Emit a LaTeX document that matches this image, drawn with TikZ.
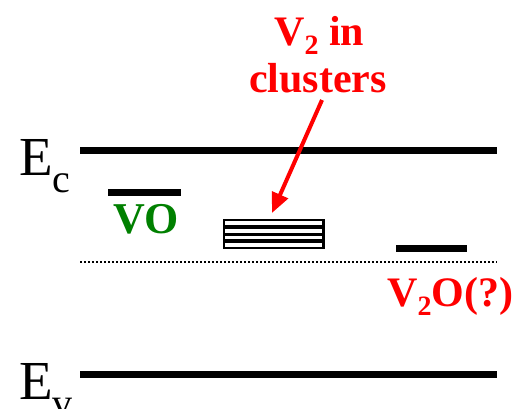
\documentclass[tikz,border=0pt]{standalone}
\usepackage{fontspec}
\setmainfont{Liberation Serif}
\usetikzlibrary{arrows.meta}
\definecolor{levelgreen}{RGB}{0,128,0}
\definecolor{levelred}{RGB}{255,0,0}
\begin{document}
\begin{tikzpicture}[x=1pt,y=-1pt,
  band/.style={line width=7pt},
  deep/.style={line width=7pt},
  lbl/.style={inner sep=0pt, anchor=base west},
  bigtxt/.style={font=\fontsize{42}{46}\selectfont\bfseries},
  edgetxt/.style={font=\fontsize{55}{60}\selectfont}]
\useasboundingbox (0,0) rectangle (516,408);
\clip (0,0) rectangle (516,408);

% band edges
\coordinate (ecl) at (80,150.5);
\coordinate (ecr) at (497,150.5);
\coordinate (evl) at (80,374);
\coordinate (evr) at (497,374);
\draw[band] (ecl) -- (ecr);
\draw[band] (evl) -- (evr);
\node[lbl, edgetxt] (ec) at (19,175) {E\raisebox{-17pt}{\fontsize{40}{44}\selectfont c}};
\node[lbl, edgetxt] (ev) at (19,399) {E\raisebox{-17pt}{\fontsize{40}{44}\selectfont v}};

% midgap reference
\coordinate (mgl) at (80,262);
\coordinate (mgr) at (497,262);
\draw[line width=1.6pt, dash pattern=on 1.6pt off 2.4pt] (mgl) -- (mgr);

% VO level
\coordinate (vol) at (108,192);
\coordinate (vor) at (181,192);
\draw[deep] (vol) -- (vor);
\node[lbl, font=\fontsize{44}{48}\selectfont\bfseries, text=levelgreen] (vo) at (113,233) {VO};

% V2O level
\coordinate (v2ol) at (396,248);
\coordinate (v2or) at (467,248);
\draw[deep] (v2ol) -- (v2or);
\node[lbl, bigtxt, text=levelred] (v2o) at (387,306) {V\raisebox{-9pt}{\fontsize{28}{30}\selectfont\bfseries 2}O(?)};

% clustered V2 levels
\fill (222.5,219) rectangle (324.5,249);
\foreach \ya/\yb in {221/225, 229/232.5, 236/239.3, 243/246.7}
  \fill[white] (225,\ya) rectangle (322,\yb);
\node[inner sep=0pt, minimum width=102pt, minimum height=30pt] (cl) at (273.5,234) {};

% cluster caption and arrow
\node[lbl, bigtxt, text=levelred] (v2a) at (274,45) {V\raisebox{-9pt}{\fontsize{28}{30}\selectfont\bfseries 2} in};
\node[lbl, bigtxt, text=levelred] (v2b) at (249,92) {clusters};
\coordinate (arrs) at (322,100);
\coordinate (arrt) at (272,213);
\draw[levelred, line width=4pt, -{Triangle[length=20pt,width=17pt]}] (arrs) -- (arrt);
\end{tikzpicture}
\end{document}
